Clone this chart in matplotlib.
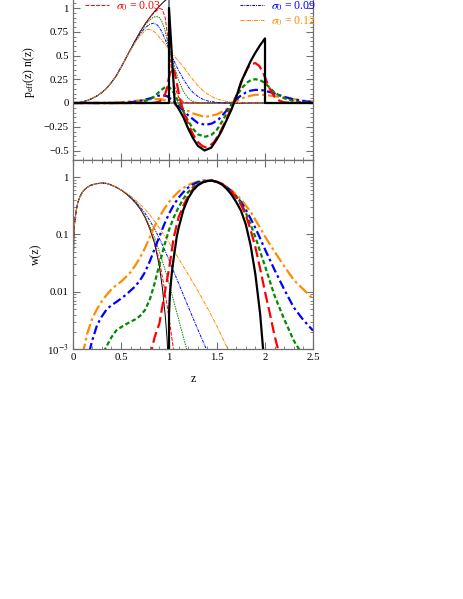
import numpy as np
import matplotlib
matplotlib.use("Agg")
import matplotlib.pyplot as plt
from matplotlib.lines import Line2D
from matplotlib.ticker import FixedLocator, FixedFormatter, MultipleLocator, NullFormatter

plt.rcParams["font.family"] = ["Liberation Serif", "DejaVu Serif"]
plt.rcParams["mathtext.fontset"] = "stix"

# ---------------- top panel: thin lines n(z) (smoothed) ----------------
z_n_black = [0, 0.05, 0.1, 0.15, 0.2, 0.25, 0.3, 0.35, 0.4, 0.45, 0.5, 0.55, 0.6, 0.65, 0.7,
             0.75, 0.8, 0.85, 0.9, 0.95, 1.0, 1.0, 2.5]
n_black = [0, 0.003, 0.012, 0.027, 0.048, 0.075, 0.11, 0.155, 0.215, 0.285, 0.375, 0.47, 0.565,
           0.66, 0.75, 0.83, 0.9, 0.965, 1.02, 1.07, 1.11, 0, 0]

z_n_common = [0, 0.05, 0.1, 0.15, 0.2, 0.25, 0.3, 0.35, 0.4, 0.45, 0.5, 0.55]
n_common = [0, 0.003, 0.012, 0.027, 0.048, 0.075, 0.11, 0.155, 0.215, 0.285, 0.375, 0.47]

z_n_red = [0.6, 0.65, 0.7, 0.75, 0.8, 0.85, 0.9, 0.93, 0.96, 0.98, 1.0, 1.03, 1.06, 1.1, 1.15, 1.2, 2.5]
n_red = [0.565, 0.66, 0.75, 0.83, 0.9, 0.955, 0.995, 0.985, 0.9, 0.75, 0.56, 0.33, 0.17, 0.06, 0.01, 0, 0]

z_n_green = [0.6, 0.65, 0.7, 0.75, 0.8, 0.84, 0.87, 0.9, 0.93, 0.96, 1.0, 1.05, 1.1, 1.15, 1.2, 1.25,
             1.3, 1.35, 2.5]
n_green = [0.565, 0.66, 0.745, 0.82, 0.875, 0.905, 0.91, 0.9, 0.85, 0.76, 0.56, 0.41, 0.24, 0.12,
           0.05, 0.015, 0.003, 0, 0]

z_n_blue = [0.6, 0.65, 0.7, 0.75, 0.8, 0.84, 0.88, 0.92, 0.96, 1.0, 1.05, 1.1, 1.15, 1.2, 1.25, 1.3,
            1.35, 1.4, 1.5, 1.6, 2.5]
n_blue = [0.56, 0.65, 0.73, 0.79, 0.83, 0.84, 0.82, 0.76, 0.67, 0.56, 0.45, 0.34, 0.25, 0.17, 0.11,
          0.07, 0.04, 0.022, 0.006, 0, 0]

z_n_orange = [0.6, 0.65, 0.7, 0.75, 0.78, 0.82, 0.86, 0.9, 0.95, 1.0, 1.05, 1.1, 1.15, 1.2, 1.25, 1.3,
              1.35, 1.4, 1.45, 1.5, 1.6, 1.7, 1.8, 1.9, 2.5]
n_orange = [0.555, 0.64, 0.71, 0.76, 0.775, 0.77, 0.74, 0.69, 0.63, 0.565, 0.5, 0.44, 0.38, 0.31,
            0.245, 0.185, 0.135, 0.095, 0.065, 0.042, 0.017, 0.006, 0.002, 0, 0]

# ---------------- top panel: thick lines p_eff(z) n(z) ----------------
z_p_black = [0, 1.0, 1.0, 1.06, 1.1, 1.15, 1.2, 1.25, 1.3, 1.37, 1.44, 1.5, 1.55, 1.6, 1.65, 1.7, 1.75,
             1.8, 1.85, 1.9, 1.95, 2.0, 2.0, 2.5]
p_black = [0, 0, 1.0, 0, -0.06, -0.15, -0.27, -0.37, -0.45, -0.5, -0.47, -0.38, -0.29, -0.18, -0.07,
           0.06, 0.22, 0.33, 0.44, 0.53, 0.61, 0.68, 0, 0]

z_p_red = [0, 0.8, 0.85, 0.9, 0.95, 0.98, 1.0, 1.02, 1.04, 1.06, 1.08, 1.1, 1.12, 1.15, 1.2, 1.25, 1.3,
           1.35, 1.38, 1.42, 1.47, 1.52, 1.57, 1.62, 1.67, 1.72, 1.77, 1.82, 1.86, 1.9, 1.94, 1.98,
           2.02, 2.06, 2.1, 2.15, 2.2, 2.3, 2.5]
p_red = [0, 0, 0.003, 0.015, 0.06, 0.16, 0.27, 0.35, 0.37, 0.32, 0.22, 0.11, 0.02, -0.09, -0.22,
         -0.33, -0.41, -0.455, -0.465, -0.455, -0.41, -0.33, -0.23, -0.12, 0.0, 0.12, 0.26, 0.37,
         0.41, 0.42, 0.39, 0.32, 0.22, 0.13, 0.065, 0.025, 0.007, 0.001, 0]

z_p_green = [0, 0.6, 0.7, 0.8, 0.85, 0.9, 0.95, 0.99, 1.03, 1.07, 1.1, 1.15, 1.2, 1.25, 1.3, 1.38,
             1.45, 1.5, 1.55, 1.6, 1.67, 1.72, 1.77, 1.82, 1.86, 1.9, 1.95, 2.0, 2.05, 2.1, 2.2, 2.3,
             2.4, 2.5]
p_green = [0, 0, 0.008, 0.035, 0.07, 0.12, 0.16, 0.175, 0.14, 0.07, 0.01, -0.09, -0.19, -0.27,
           -0.33, -0.355, -0.33, -0.28, -0.2, -0.11, 0.02, 0.1, 0.17, 0.22, 0.245, 0.25, 0.24, 0.21,
           0.16, 0.11, 0.05, 0.018, 0.006, 0.002]

z_p_blue = [0, 0.5, 0.6, 0.7, 0.8, 0.88, 0.93, 0.98, 1.03, 1.07, 1.12, 1.2, 1.3, 1.38, 1.45, 1.52,
            1.6, 1.68, 1.75, 1.8, 1.85, 1.9, 1.95, 2.0, 2.1, 2.2, 2.3, 2.4, 2.5]
p_blue = [0, 0, 0.008, 0.022, 0.048, 0.075, 0.083, 0.072, 0.035, 0.0, -0.05, -0.13, -0.21, -0.23,
          -0.215, -0.17, -0.08, 0.02, 0.08, 0.11, 0.13, 0.138, 0.137, 0.13, 0.1, 0.065, 0.038, 0.02,
          0.01]

z_p_orange = [0, 0.3, 0.5, 0.7, 0.85, 0.92, 1.0, 1.05, 1.15, 1.25, 1.35, 1.4, 1.5, 1.6, 1.7, 1.8, 1.9,
              2.0, 2.1, 2.2, 2.3, 2.4, 2.5]
p_orange = [0, 0, 0.008, 0.028, 0.042, 0.04, 0.015, -0.01, -0.06, -0.11, -0.14, -0.142, -0.12,
            -0.065, 0.02, 0.065, 0.087, 0.085, 0.072, 0.056, 0.04, 0.026, 0.015]

# ---------------- bottom panel: thin lines (first bin) ----------------
z_w_common = [0.0, 0.002, 0.004, 0.007, 0.012, 0.02, 0.035, 0.05, 0.07, 0.1, 0.14, 0.18, 0.24, 0.3,
              0.35, 0.4, 0.45, 0.5]
w_common = [0.0002, 0.008, 0.03, 0.08, 0.13, 0.18, 0.27, 0.36, 0.45, 0.56, 0.65, 0.72, 0.77, 0.79,
            0.78, 0.73, 0.67, 0.6]

z_w1_black = [0.55, 0.6, 0.65, 0.7, 0.75, 0.8, 0.85, 0.9, 0.93, 0.96, 0.98, 0.995]
w1_black = [0.52, 0.44, 0.36, 0.28, 0.2, 0.125, 0.07, 0.028, 0.012, 0.004, 0.0015, 0.0004]
z_w1_red = [0.55, 0.6, 0.65, 0.7, 0.75, 0.8, 0.85, 0.9, 0.95, 1.0, 1.05]
w1_red = [0.52, 0.44, 0.36, 0.28, 0.2, 0.13, 0.075, 0.035, 0.012, 0.0035, 0.0009]
z_w1_green = [0.55, 0.6, 0.65, 0.7, 0.75, 0.8, 0.85, 0.9, 0.95, 1.0, 1.05, 1.1, 1.15, 1.2]
w1_green = [0.525, 0.445, 0.365, 0.285, 0.205, 0.14, 0.088, 0.05, 0.027, 0.014, 0.0068, 0.0033,
            0.0016, 0.0008]
z_w1_blue = [0.55, 0.6, 0.65, 0.7, 0.75, 0.8, 0.85, 0.9, 0.95, 1.0, 1.1, 1.2, 1.3, 1.4]
w1_blue = [0.53, 0.45, 0.375, 0.3, 0.235, 0.175, 0.125, 0.085, 0.056, 0.036, 0.014, 0.0055, 0.0022,
           0.0009]
z_w1_orange = [0.55, 0.6, 0.65, 0.7, 0.75, 0.8, 0.85, 0.9, 1.0, 1.1, 1.2, 1.3, 1.4, 1.5, 1.6, 1.62]
w1_orange = [0.54, 0.47, 0.4, 0.335, 0.275, 0.22, 0.17, 0.13, 0.072, 0.038, 0.02, 0.0105, 0.0052,
             0.0025, 0.0011, 0.0009]

# ---------------- bottom panel: thick lines (second bin) ----------------
z_w2_black = [1.0, 1.0, 1.01, 1.03, 1.05, 1.08, 1.1, 1.15, 1.2, 1.25, 1.3, 1.35, 1.4, 1.45, 1.5, 1.55,
              1.6, 1.65, 1.7, 1.75, 1.8, 1.85, 1.9, 1.95, 1.98, 2.0]
w2_black = [0.0002, 0.004, 0.0095, 0.022, 0.04, 0.09, 0.13, 0.27, 0.43, 0.59, 0.72, 0.81, 0.86, 0.87,
            0.83, 0.75, 0.63, 0.5, 0.37, 0.26, 0.15, 0.065, 0.02, 0.004, 0.001, 0.0003]
z_w2_red = [0.8, 0.85, 0.9, 0.95, 1.0, 1.05, 1.1, 1.15, 1.2, 1.25, 1.3, 1.35, 1.4, 1.45, 1.5, 1.55,
            1.6, 1.65, 1.7, 1.75, 1.8, 1.85, 1.9, 1.95, 2.0, 2.05, 2.1, 2.15]
w2_red = [0.0007, 0.0016, 0.0028, 0.0085, 0.025, 0.09, 0.2, 0.32, 0.47, 0.62, 0.74, 0.82, 0.86, 0.87,
          0.84, 0.77, 0.67, 0.56, 0.44, 0.33, 0.22, 0.12, 0.06, 0.025, 0.01, 0.0042, 0.0017, 0.0008]
z_w2_green = [0.32, 0.4, 0.45, 0.5, 0.55, 0.6, 0.65, 0.7, 0.75, 0.8, 0.85, 0.9, 0.95, 1.0, 1.05, 1.1,
              1.15, 1.2, 1.25, 1.3, 1.35, 1.4, 1.45, 1.5, 1.55, 1.6, 1.65, 1.7, 1.75, 1.8, 1.85, 1.9,
              1.95, 2.0, 2.1, 2.2, 2.3, 2.37]
w2_green = [0.0009, 0.0016, 0.0021, 0.0024, 0.0027, 0.003, 0.0033, 0.0038, 0.0048, 0.0073, 0.014,
            0.03, 0.063, 0.12, 0.2, 0.3, 0.42, 0.55, 0.67, 0.77, 0.84, 0.87, 0.87, 0.83, 0.76, 0.66,
            0.56, 0.46, 0.35, 0.24, 0.15, 0.09, 0.05, 0.028, 0.0085, 0.0033, 0.0014, 0.0009]
z_w2_blue = [0.17, 0.2, 0.25, 0.3, 0.35, 0.4, 0.45, 0.5, 0.55, 0.6, 0.65, 0.7, 0.75, 0.8, 0.85, 0.9,
             0.95, 1.0, 1.05, 1.1, 1.15, 1.2, 1.25, 1.3, 1.35, 1.4, 1.45, 1.5, 1.55, 1.6, 1.65, 1.7,
             1.75, 1.8, 1.85, 1.9, 1.95, 2.0, 2.1, 2.2, 2.3, 2.4, 2.5]
w2_blue = [0.0009, 0.0014, 0.0026, 0.0037, 0.0049, 0.0058, 0.0066, 0.0076, 0.0088, 0.0105, 0.0125,
           0.016, 0.022, 0.034, 0.056, 0.092, 0.15, 0.23, 0.33, 0.44, 0.55, 0.66, 0.75, 0.82, 0.86,
           0.88, 0.87, 0.83, 0.77, 0.67, 0.57, 0.47, 0.37, 0.27, 0.19, 0.13, 0.085, 0.055, 0.024,
           0.011, 0.0053, 0.0032, 0.0021]
z_w2_orange = [0.1, 0.15, 0.2, 0.25, 0.3, 0.35, 0.4, 0.45, 0.5, 0.55, 0.6, 0.65, 0.7, 0.75, 0.8, 0.85,
               0.9, 0.95, 1.0, 1.05, 1.1, 1.15, 1.2, 1.25, 1.3, 1.35, 1.4, 1.45, 1.5, 1.55, 1.6, 1.65,
               1.7, 1.75, 1.8, 1.85, 1.9, 1.95, 2.0, 2.1, 2.2, 2.3, 2.4, 2.5]
w2_orange = [0.0008, 0.0019, 0.0034, 0.005, 0.0068, 0.0088, 0.011, 0.013, 0.015, 0.018, 0.022, 0.029,
             0.04, 0.058, 0.09, 0.14, 0.2, 0.28, 0.37, 0.46, 0.56, 0.65, 0.73, 0.79, 0.84, 0.87, 0.88,
             0.87, 0.82, 0.75, 0.67, 0.59, 0.5, 0.41, 0.32, 0.25, 0.18, 0.13, 0.092, 0.05, 0.028, 0.016,
             0.011, 0.0075]

legend_labels = [r"$\sigma_0$ = 0.03", r"$\sigma_0$ = 0.09", r"$\sigma_0$ = 0.12"]

c_black, c_red, c_green, c_blue, c_orange = "black", "#ff0000", "#008a00", "#0000ff", "#ff8c00"
thick, thin = 1.6, 0.7
ls_red = (0, (5, 2))
ls_green = (0, (2, 1.2))
ls_blue = (0, (4, 1.5, 1.2, 1.5))
ls_orange = (0, (5, 1.5, 1.2, 1.5))
ls_red_t = (0, (4, 1.5))
ls_green_t = (0, (1.5, 1))
ls_blue_t = (0, (3, 1, 1, 1))
ls_orange_t = (0, (4, 1, 1, 1))
frame_col = "#6e6e6e"

W, H = 463, 599
fig = plt.figure(figsize=(4.63, 5.99), dpi=100)
# top panel: y=0 at 103 px, 95 px per unit, frame top lies above the picture
ax1 = fig.add_axes([73 / W, 1 - 160 / H, 240 / W, 171 / H])
ax2 = fig.add_axes([73 / W, 1 - 349 / H, 240 / W, 189 / H])

# top panel
ax1.plot(z_n_black, n_black, color=c_black, lw=thin)
ax1.plot(z_n_common + z_n_red, n_common + n_red, color=c_red, lw=thin, ls=ls_red_t)
ax1.plot(z_n_common + z_n_green, n_common + n_green, color=c_green, lw=thin, ls=ls_green_t)
ax1.plot(z_n_common + z_n_blue, n_common + n_blue, color=c_blue, lw=thin, ls=ls_blue_t)
ax1.plot(z_n_common + z_n_orange, n_common + n_orange, color=c_orange, lw=thin, ls=ls_orange_t)
ax1.plot(z_p_orange, p_orange, color=c_orange, lw=thick, ls=ls_orange)
ax1.plot(z_p_blue, p_blue, color=c_blue, lw=thick, ls=ls_blue)
ax1.plot(z_p_green, p_green, color=c_green, lw=thick, ls=ls_green)
ax1.plot(z_p_red, p_red, color=c_red, lw=thick, ls=ls_red)
ax1.plot(z_p_black, p_black, color=c_black, lw=thick)
ax1.set_xlim(0, 2.5)
ax1.set_ylim(-0.6, 1.2)
ax1.yaxis.set_major_locator(FixedLocator([-0.5, -0.25, 0, 0.25, 0.5, 0.75, 1]))
ax1.yaxis.set_major_formatter(FixedFormatter(["\u22120.5", "\u22120.25", "0", "0.25", "0.5", "0.75", "1"]))
ax1.yaxis.set_minor_locator(MultipleLocator(0.05))
ax1.xaxis.set_major_locator(MultipleLocator(0.5))
ax1.xaxis.set_minor_locator(MultipleLocator(0.1))
ax1.xaxis.set_major_formatter(NullFormatter())
ax1.set_ylabel(r"p$_{\rm eff}$(z) n(z)", fontsize=8.5)
ax1.yaxis.set_label_coords(-0.15, (160 - 72) / 171)

# bottom panel
ax2.plot(z_w_common + z_w1_black, w_common + w1_black, color=c_black, lw=thin)
ax2.plot(z_w_common + z_w1_red, w_common + w1_red, color=c_red, lw=thin, ls=ls_red_t)
ax2.plot(z_w_common + z_w1_green, w_common + w1_green, color=c_green, lw=thin, ls=ls_green_t)
ax2.plot(z_w_common + z_w1_blue, w_common + w1_blue, color=c_blue, lw=thin, ls=ls_blue_t)
ax2.plot(z_w_common + z_w1_orange, w_common + w1_orange, color=c_orange, lw=thin, ls=ls_orange_t)
ax2.plot(z_w2_orange, w2_orange, color=c_orange, lw=thick, ls=ls_orange)
ax2.plot(z_w2_blue, w2_blue, color=c_blue, lw=thick, ls=ls_blue)
ax2.plot(z_w2_green, w2_green, color=c_green, lw=thick, ls=ls_green)
ax2.plot(z_w2_red, w2_red, color=c_red, lw=thick, ls=ls_red)
ax2.plot(z_w2_black, w2_black, color=c_black, lw=thick)
ax2.set_yscale("log")
ax2.set_xlim(0, 2.5)
ax2.set_ylim(1e-3, 2)
ax2.yaxis.set_major_locator(FixedLocator([1e-3, 1e-2, 1e-1, 1]))
ax2.yaxis.set_major_formatter(FixedFormatter([r"10$^{-3}$", "0.01", "0.1", "1"]))
ax2.yaxis.set_minor_locator(FixedLocator([m * 10.0 ** e for e in range(-3, 1) for m in range(2, 10)]))
ax2.yaxis.set_minor_formatter(NullFormatter())
ax2.xaxis.set_major_locator(FixedLocator([0, 0.5, 1, 1.5, 2, 2.5]))
ax2.xaxis.set_major_formatter(FixedFormatter(["0", "0.5", "1", "1.5", "2", "2.5"]))
ax2.xaxis.set_minor_locator(MultipleLocator(0.1))
ax2.set_xlabel("z", fontsize=8.5)
ax2.xaxis.set_label_coords(0.5, (349 - 373) / 189)
ax2.set_ylabel("w(z)", fontsize=8.5)
ax2.yaxis.set_label_coords((42 - 73) / 240, 0.5)

for ax in (ax1, ax2):
    for s in ax.spines.values():
        s.set_color(frame_col)
        s.set_linewidth(0.9)
    ax.tick_params(which="both", direction="in", top=True, right=True, color=frame_col,
                   labelsize=7.8, pad=3)
    ax.tick_params(which="major", length=5, width=0.8)
    ax.tick_params(which="minor", length=2.5, width=0.6)

# legend rows (the rows above the picture edge are cut off in the original)
rows = [
    (Line2D([], [], color=c_red, lw=thin, ls=ls_red_t), legend_labels[0], 85, 6),
    (Line2D([], [], color=c_blue, lw=thin, ls=ls_blue_t), legend_labels[1], 240, 6),
    (Line2D([], [], color=c_orange, lw=thin, ls=ls_orange_t), legend_labels[2], 240, 21),
]
for handle, label, px, py in rows:
    fig.legend([handle], [label], loc="center left", bbox_to_anchor=(px / W, 1 - py / H),
               frameon=False, fontsize=8.5, handlelength=2.0, handletextpad=0.6, borderpad=0,
               borderaxespad=0, labelcolor="linecolor")

fig.savefig("out.png", dpi=100)
